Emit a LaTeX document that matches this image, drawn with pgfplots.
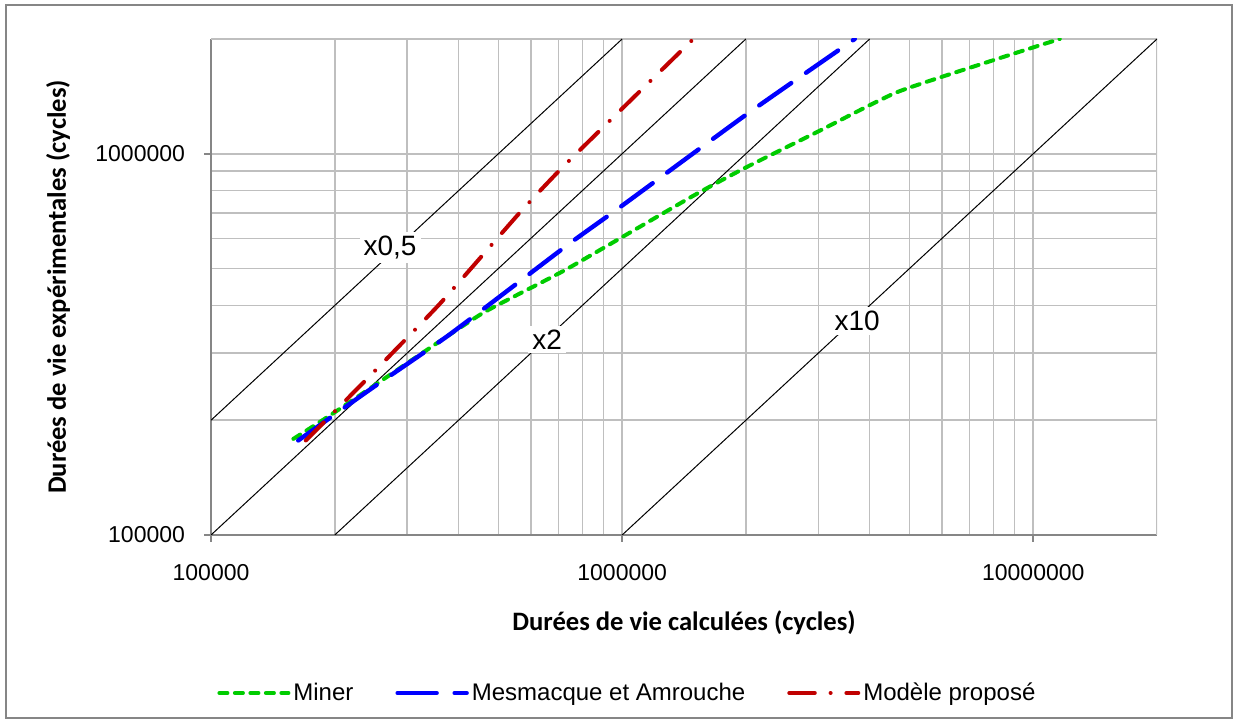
\documentclass[border=0pt]{standalone}
\usepackage{pgfplots}
\pgfplotsset{compat=1.18}
\usepackage{fontspec}
\setmainfont{Liberation Sans}
\newfontfamily\titlefont{Carlito}

\definecolor{minergreen}{RGB}{0,204,0}
\definecolor{mesblue}{RGB}{0,0,255}
\definecolor{modred}{RGB}{192,0,0}
\definecolor{gridgray}{RGB}{191,191,191}
\definecolor{axisgray}{RGB}{134,134,134}

\begin{document}
\begin{tikzpicture}
\begin{axis}[
  scale only axis, width=473pt, height=248pt,
  xmode=log, ymode=log,
  xmin=1e5, xmax=2e7, ymin=1e5, ymax=2e6,
  xtick={1e5,1e6,1e7}, xticklabels={100000,1000000,10000000},
  ytick={1e5,1e6}, yticklabels={100000,1000000},
  grid=both,
  major grid style={gridgray, line width=0.8pt},
  minor grid style={gridgray, line width=0.8pt},
  axis x line*=bottom, axis y line*=left,
  axis line style={axisgray, line width=0.9pt, -},
  tick align=outside, major tick length=3.5pt, minor tick length=0pt,
  tick style={axisgray, line width=0.8pt},
  ticklabel style={font=\fontsize{11.5}{13}\selectfont},
  xticklabel style={yshift=-7.5pt},
  yticklabel style={xshift=-6pt},
  xlabel={\titlefont\bfseries Durées de vie calculées (cycles)},
  ylabel={\titlefont\bfseries Durées de vie expérimentales (cycles)},
  xlabel style={at={(axis description cs:0.5,-0.1774)}, anchor=center, font=\fontsize{13.3}{15}\selectfont},
  ylabel style={at={(axis description cs:-0.1617,0.5)}, anchor=center, font=\fontsize{13.3}{15}\selectfont},
  legend columns=3,
  legend style={at={(axis description cs:0,0)}, anchor=west, xshift=0pt, yshift=-79pt,
    draw=none, fill=none, font=\fontsize{12}{14}\selectfont,
    /tikz/every even column/.append style={column sep=19.5pt},
    nodes={inner sep=1.5pt}},
  legend image code/.code={\draw[#1] (0pt,0pt) -- (34.5pt,0pt);},
]
\coordinate (sw) at (rel axis cs:0,0);
\coordinate (ne) at (rel axis cs:1,1);
\draw[gridgray, line width=0.8pt] (rel axis cs:0,1) -- (rel axis cs:1,1) -- (rel axis cs:1,0);

% reference lines
\addplot[black, line width=0.5pt, forget plot] coordinates {(1e5,2e5) (1e6,2e6)};
\addplot[black, line width=0.5pt, forget plot] coordinates {(1e5,1e5) (2e6,2e6)};
\addplot[black, line width=0.5pt, forget plot] coordinates {(2e5,1e5) (4e6,2e6)};
\addplot[black, line width=0.5pt, forget plot] coordinates {(1e6,1e5) (2e7,2e6)};

\node[fill=white, inner sep=2pt, font=\fontsize{14}{16}\selectfont] at (axis cs:272600,569000) {x0,5};
\node[fill=white, inner sep=2pt, font=\fontsize{14}{16}\selectfont] at (axis cs:657000,326000) {x2};
\node[fill=white, inner sep=2pt, font=\fontsize{14}{16}\selectfont] at (axis cs:3730000,363600) {x10};

\addplot[minergreen, line width=2pt, line cap=round, dash pattern=on 4pt off 3.75pt, smooth, tension=0.3]
coordinates {(158600,178700) (198800,209000) (310000,289000) (460000,383000) (733000,498000)
 (1490000,776000) (2010000,923000) (2980000,1140000) (4660000,1450000) (8000000,1760000) (11600000,2000000)};
\addlegendentry{Miner}

\addplot[mesblue, line width=2.2pt, line cap=round, dash pattern=on 19.5pt off 9pt, smooth, tension=0.3]
coordinates {(163000,177000) (244000,241000) (381000,336000) (733000,574000) (988000,724000)
 (2010000,1270000) (3680000,2000000)};
\addlegendentry{Mesmacque et Amrouche}

\addplot[modred, line width=2pt, line cap=round, dash pattern=on 12.75pt off 7.9pt on 0.01pt off 7.9pt, smooth, tension=0.3]
coordinates {(170000,177000) (239000,256000) (361000,405000) (560000,695000) (731000,942000) (1490000,2000000)};
\addlegendentry{Modèle proposé}
\end{axis}
\draw[axisgray, line width=0.75pt] ([shift={(-102.5pt,-91.5pt)}]sw) rectangle ([shift={(37.5pt,17pt)}]ne);
\pgfresetboundingbox
\useasboundingbox ([shift={(-105.5pt,-94.5pt)}]sw) rectangle ([shift={(40.5pt,19.5pt)}]ne);
\end{tikzpicture}
\end{document}
